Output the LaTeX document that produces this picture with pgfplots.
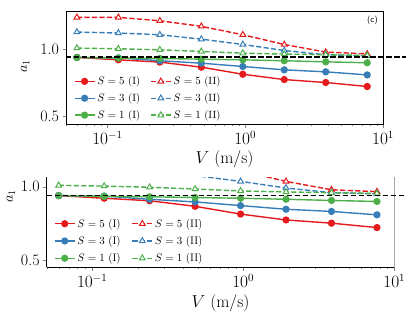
\documentclass[border=0pt]{standalone}
\usepackage{pgfplots}
\usepackage{pgfplotstable}
\pgfplotsset{compat=1.18}
\definecolor{cR}{HTML}{E41A1C}
\definecolor{cB}{HTML}{377EB8}
\definecolor{cG}{HTML}{4DAF4A}
\pgfplotstableread{
x    s5i   s3i   s1i   s5ii  s3ii  s1ii
0.06 0.939 0.939 0.939 1.239 1.129 1.009
0.12 0.921 0.936 0.934 1.239 1.122 1.004
0.24 0.904 0.914 0.931 1.214 1.109 0.996
0.48 0.866 0.896 0.926 1.172 1.076 0.984
0.96 0.813 0.871 0.921 1.109 1.036 0.971
1.92 0.773 0.846 0.914 1.036 0.991 0.964
3.84 0.751 0.831 0.906 0.979 0.959 0.959
7.68 0.721 0.808 0.899 0.966 0.951 0.954
}\datatab
\begin{document}
\begin{tikzpicture}
\useasboundingbox (0pt,0pt) rectangle (406pt,-315pt);
% ---------- top panel
\begin{axis}[xmode=log, xmin=0.05, xmax=10, scale only axis, tick align=outside,
    xtick pos=bottom, ytick pos=left, ytick={0.5,1.0}, yticklabels={0.5,1.0},
    major tick length=3.5pt, minor tick length=2pt,
    tick label style={font=\fontsize{16}{18}\selectfont},
    label style={font=\fontsize{17}{20}\selectfont},
    ylabel style={font=\fontsize{14}{16}\selectfont, at={(rel axis cs:-0.129,0.513)}, anchor=center},
    axis line style={line width=0.8pt},
    xlabel={$V$ (m/s)}, ylabel={$a_1$},
    legend columns=3, transpose legend, legend cell align=left,
    legend image code/.code={\draw[mark repeat=2,mark phase=2,#1] plot coordinates {(0cm,0cm) (0.35cm,0cm) (0.7cm,0cm)};},
  at={(66pt,-124pt)}, anchor=south west, width=317pt, height=113pt,
  ymin=0.44, ymax=1.287,
  legend style={at={(rel axis cs:0.015,0.0)}, anchor=south west, draw=none, fill=none,
    font=\fontsize{10.5}{12}\selectfont, row sep=3.5pt,
    /tikz/every even column/.append style={column sep=8pt}}]
\addplot[color=cR, line width=1.4pt, mark=*, mark size=2.9pt, mark options={solid, fill=cR}] table[x=x,y=s5i] {\datatab};
\addlegendentry{$S=5$ (I)}
\addplot[color=cB, line width=1.4pt, mark=*, mark size=2.9pt, mark options={solid, fill=cB}] table[x=x,y=s3i] {\datatab};
\addlegendentry{$S=3$ (I)}
\addplot[color=cG, line width=1.4pt, mark=*, mark size=2.9pt, mark options={solid, fill=cG}] table[x=x,y=s1i] {\datatab};
\addlegendentry{$S=1$ (I)}
\addplot[color=cR, line width=1.4pt, dash pattern=on 5.2pt off 2.3pt, mark=triangle*, mark size=3.3pt, mark options={solid, fill=white, line width=1pt}] table[x=x,y=s5ii] {\datatab};
\addlegendentry{$S=5$ (II)}
\addplot[color=cB, line width=1.4pt, dash pattern=on 5.2pt off 2.3pt, mark=triangle*, mark size=3.3pt, mark options={solid, fill=white, line width=1pt}] table[x=x,y=s3ii] {\datatab};
\addlegendentry{$S=3$ (II)}
\addplot[color=cG, line width=1.4pt, dash pattern=on 5.2pt off 2.3pt, mark=triangle*, mark size=3.3pt, mark options={solid, fill=white, line width=1pt}] table[x=x,y=s1ii] {\datatab};
\addlegendentry{$S=1$ (II)}
\node[anchor=north east, font=\sffamily\fontsize{8.5}{10}\selectfont, inner sep=0pt] at (rel axis cs:0.984,0.956) {(c)};
\end{axis}
\begin{axis}[xmode=log, xmin=0.05, xmax=10, scale only axis, hide axis, clip=false,
  at={(66pt,-124pt)}, anchor=south west, width=317pt, height=113pt, ymin=0.44, ymax=1.287]
\addplot[black, line width=1.6pt, dash pattern=on 5.5pt off 2.5pt] coordinates {(0.05,0.94) (20,0.94)};
\end{axis}
% ---------- bottom panel
\begin{axis}[xmode=log, xmin=0.05, xmax=10, scale only axis, tick align=outside,
    ytick={0.5,1.0}, yticklabels={0.5,1.0},
    major tick length=3.5pt, minor tick length=2pt,
    tick label style={font=\fontsize{16}{18}\selectfont},
    label style={font=\fontsize{17}{20}\selectfont},
    ylabel style={font=\fontsize{14}{16}\selectfont, at={(rel axis cs:-0.103,0.784)}, anchor=center},
    axis line style={line width=0.8pt},
    xlabel={$V$ (m/s)}, ylabel={$a_1$},
    legend columns=3, transpose legend, legend cell align=left,
    legend image code/.code={\draw[mark repeat=2,mark phase=2,#1] plot coordinates {(0cm,0cm) (0.35cm,0cm) (0.7cm,0cm)};},
  at={(46.7pt,-267.3pt)}, anchor=south west, width=347.6pt, height=90.3pt,
  ymin=0.45, ymax=1.066, axis x line*=bottom, axis y line*=left,
  legend style={at={(rel axis cs:0.012,0.0)}, anchor=south west, draw=none, fill=none,
    font=\fontsize{11}{13}\selectfont, row sep=3.5pt,
    /tikz/every even column/.append style={column sep=9pt}}]
\addplot[color=cR, line width=1.4pt, mark=*, mark size=2.9pt, mark options={solid, fill=cR}] table[x=x,y=s5i] {\datatab};
\addlegendentry{$S=5$ (I)}
\addplot[color=cB, line width=1.4pt, mark=*, mark size=2.9pt, mark options={solid, fill=cB}] table[x=x,y=s3i] {\datatab};
\addlegendentry{$S=3$ (I)}
\addplot[color=cG, line width=1.4pt, mark=*, mark size=2.9pt, mark options={solid, fill=cG}] table[x=x,y=s1i] {\datatab};
\addlegendentry{$S=1$ (I)}
\addplot[color=cR, line width=1.4pt, dash pattern=on 5.2pt off 2.3pt, mark=triangle*, mark size=3.3pt, mark options={solid, fill=white, line width=1pt}] table[x=x,y=s5ii] {\datatab};
\addlegendentry{$S=5$ (II)}
\addplot[color=cB, line width=1.4pt, dash pattern=on 5.2pt off 2.3pt, mark=triangle*, mark size=3.3pt, mark options={solid, fill=white, line width=1pt}] table[x=x,y=s3ii] {\datatab};
\addlegendentry{$S=3$ (II)}
\addplot[color=cG, line width=1.4pt, dash pattern=on 5.2pt off 2.3pt, mark=triangle*, mark size=3.3pt, mark options={solid, fill=white, line width=1pt}] table[x=x,y=s1ii] {\datatab};
\addlegendentry{$S=1$ (II)}
\draw[line width=0.8pt] (rel axis cs:1,0) -- (rel axis cs:1,1);
\end{axis}
\begin{axis}[xmode=log, xmin=0.05, xmax=10, scale only axis, hide axis, clip=false,
  at={(46.7pt,-267.3pt)}, anchor=south west, width=347.6pt, height=90.3pt, ymin=0.45, ymax=1.066]
\addplot[black, line width=1.6pt, dash pattern=on 5.5pt off 2.5pt] coordinates {(0.05,0.94) (20,0.94)};
\end{axis}
\end{tikzpicture}
\end{document}
